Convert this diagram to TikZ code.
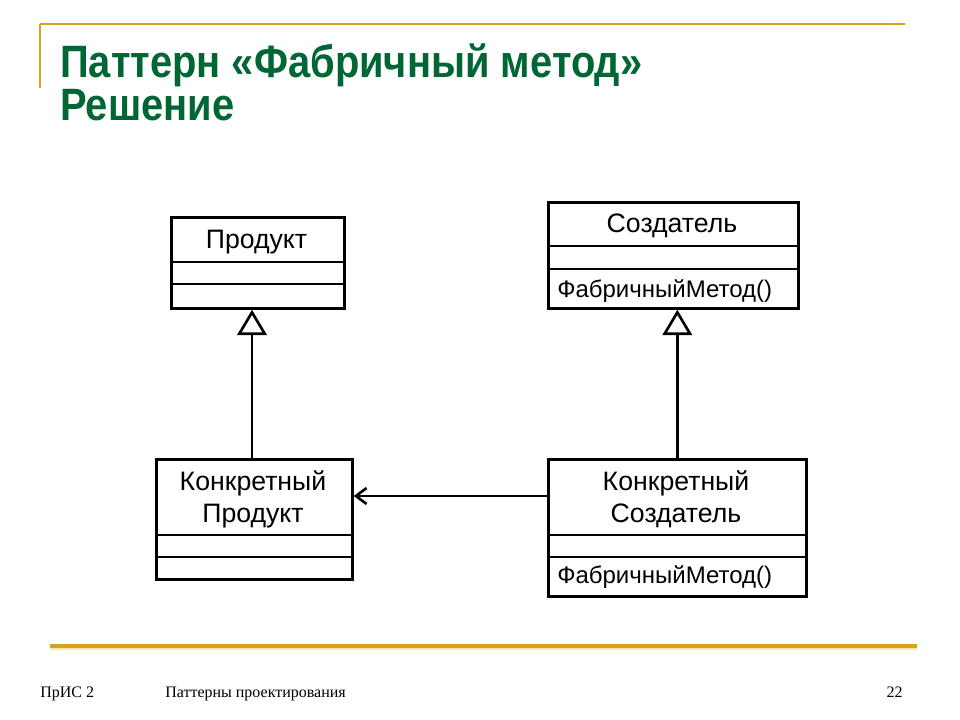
\documentclass[tikz,border=0pt]{standalone}
\usepackage{fontspec}
\setmainfont{Liberation Serif}
\newfontfamily\uml{Liberation Sans}
\newfontfamily\titlefont[FakeStretch=0.88]{Liberation Sans}
\usetikzlibrary{arrows.meta}
\definecolor{titlegreen}{RGB}{0,102,51}
\definecolor{gold}{RGB}{214,163,30}
\definecolor{palegold}{RGB}{250,232,160}
\tikzset{
  cls/.style={draw, line width=2pt, inner sep=0pt, anchor=north west},
  divider/.style={line width=2pt},
  umltext/.style={font=\uml\fontsize{20}{24}\selectfont, align=center, inner sep=0pt},
  methtext/.style={font=\uml\fontsize{18}{20}\selectfont, anchor=west, inner sep=0pt},
  inherit/.style={line width=2pt, -{Triangle[open, length=19pt, width=22pt, line width=2pt]}},
  assoc/.style={line width=2pt, -{Straight Barb[length=8pt, width=12pt, line width=2pt]}},
  footer/.style={font=\fontsize{12}{14}\selectfont, inner sep=0pt, anchor=base west},
  titletext/.style={font=\titlefont\bfseries\fontsize{34}{38}\selectfont, text=titlegreen, anchor=base west, inner sep=0pt}
}
\begin{document}
\begin{tikzpicture}[x=0.75pt, y=-0.75pt]
\useasboundingbox (0,0) rectangle (960,720);
\fill[white] (0,0) rectangle (960,720);
% decoration
\draw[gold, line width=2pt] (40,24) -- (905,24);
\draw[gold, line width=1.5pt] (40,24) -- (40,88);
\draw[gold, line width=2.5pt] (50,646) -- (917,646);
\draw[palegold, line width=1.5pt] (50,649) -- (917,649);
% title
\node[titletext] (t1) at (60,78) {Паттерн «Фабричный метод»};
\node[titletext] (t2) at (60,121) {Решение};
% Продукт
\node[cls, minimum width=129.75pt, minimum height=68.25pt] (prod) at (170,216) {};
\draw[divider] (170,262) -- (343,262);
\draw[divider] (170,284) -- (343,284);
\node[umltext] (prodt) at (256.5,242) {Продукт};
% Создатель
\node[cls, minimum width=187.5pt, minimum height=79.5pt] (cr) at (547,201) {};
\draw[divider] (547,246) -- (797,246);
\draw[divider] (547,269) -- (797,269);
\node[umltext] (crt) at (672,226) {Создатель};
\node[methtext] (crm) at (557,291) {ФабричныйМетод()};
% Конкретный Продукт
\node[cls, minimum width=147pt, minimum height=90pt] (kp) at (155,458) {};
\draw[divider] (155,535) -- (351,535);
\draw[divider] (155,557) -- (351,557);
\node[umltext] (kpt) at (253,499) {Конкретный\\Продукт};
% Конкретный Создатель
\node[cls, minimum width=193.5pt, minimum height=102.75pt] (ks) at (547,458) {};
\draw[divider] (547,535) -- (805,535);
\draw[divider] (547,557) -- (805,557);
\node[umltext] (kst) at (676,499) {Конкретный\\Создатель};
\node[methtext] (ksm) at (557,577) {ФабричныйМетод()};
% connectors
\draw[inherit] (kp.north -| 252,0) -- (prod.south -| 252,0);
\draw[inherit] (ks.north) -- (ks.north |- cr.south);
\coordinate (as) at (450,496);
\draw[assoc] (ks.west |- as) -- (kp.east |- as);
% footer
\node[footer] (f1) at (40,697) {ПрИС 2};
\node[footer] (f2) at (165,697) {Паттерны проектирования};
\node[footer, anchor=base east] (f3) at (903,697) {22};
\end{tikzpicture}
\end{document}
